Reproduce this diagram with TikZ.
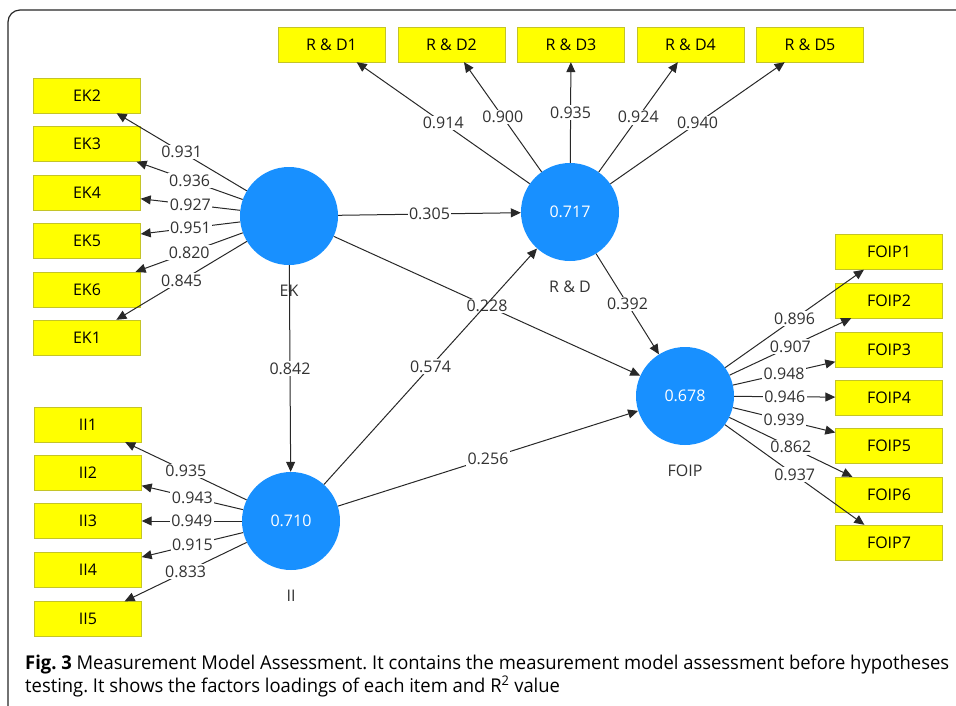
\documentclass[tikz,border=0pt]{standalone}
\usepackage{fontspec}
\setmainfont{Open Sans}
\usetikzlibrary{arrows.meta}
\definecolor{lvblue}{RGB}{24,144,255}
\definecolor{mvyellow}{RGB}{255,255,0}
\definecolor{mvedge}{RGB}{196,196,40}
\definecolor{linegray}{RGB}{40,40,40}
\definecolor{textgray}{RGB}{50,50,50}
\newsavebox\capbox
\newlength\capwd
\frenchspacing

\begin{document}
\sbox\capbox{\fontsize{19}{22}\selectfont\textbf{Fig. 3} Measurement Model Assessment. It contains the measurement model assessment before hypotheses}%
\setlength\capwd{\wd\capbox}%
\begin{tikzpicture}[x=1pt,y=-1pt]

\tikzstyle{every node}=[font=\fontsize{16}{19}\selectfont];
\tikzstyle{item}=[draw=mvedge, fill=mvyellow, minimum width=107pt, minimum height=35pt, inner sep=0pt, text=black];
\tikzstyle{latent}=[circle, fill=lvblue, minimum size=98pt, inner sep=0pt, text=white];
\tikzstyle{load}=[midway, fill=white, inner sep=1.5pt, text=textgray];
\tikzstyle{link}=[draw=linegray, line width=1pt, -{Triangle[length=10pt,width=9pt]}];
\tikzstyle{caption}=[anchor=base west, inner sep=0pt, font=\fontsize{19}{22}\selectfont];

\useasboundingbox (0,0) rectangle (956,705);

% frame
\draw[line width=1.2pt, draw=black!85, rounded corners=12pt] (8,710) -- (8,10) -- (960,10);

% latent variables
\node[latent, label={[label distance=16pt, text=textgray]below:EK}] (EK) at (289,216) {};
\node[latent, label={[label distance=16pt, text=textgray]below:R \& D}] (RD) at (570,212) {0.717};
\node[latent, label={[label distance=16pt, text=textgray]below:II}] (II) at (291,521) {0.710};
\node[latent, label={[label distance=16pt, text=textgray]below:FOIP}] (FOIP) at (685,396) {0.678};

% EK items
\node[item] (ek2) at (87,95.5) {EK2};
\node[item] (ek3) at (87,144) {EK3};
\node[item] (ek4) at (87,192.5) {EK4};
\node[item] (ek5) at (87,240.5) {EK5};
\node[item] (ek6) at (87,289.5) {EK6};
\node[item] (ek1) at (87,337.5) {EK1};

% II items
\node[item] (ii1) at (88,424.5) {II1};
\node[item] (ii2) at (88,473) {II2};
\node[item] (ii3) at (88,521) {II3};
\node[item] (ii4) at (88,570) {II4};
\node[item] (ii5) at (88,619) {II5};

% R & D items
\node[item] (rd1) at (331.5,44.5) {R \& D1};
\node[item] (rd2) at (451.5,44.5) {R \& D2};
\node[item] (rd3) at (571,44.5) {R \& D3};
\node[item] (rd4) at (690.5,44.5) {R \& D4};
\node[item] (rd5) at (810,44.5) {R \& D5};

% FOIP items
\node[item] (foip1) at (889,252) {FOIP1};
\node[item] (foip2) at (889,300.5) {FOIP2};
\node[item] (foip3) at (889,349.5) {FOIP3};
\node[item] (foip4) at (889,397.5) {FOIP4};
\node[item] (foip5) at (889,445.5) {FOIP5};
\node[item] (foip6) at (889,494.5) {FOIP6};
\node[item] (foip7) at (889,542.5) {FOIP7};

% loadings
\draw[link] (EK) -- (ek2) node[load] {0.931};
\draw[link] (EK) -- (ek3) node[load] {0.936};
\draw[link] (EK) -- (ek4) node[load] {0.927};
\draw[link] (EK) -- (ek5) node[load] {0.951};
\draw[link] (EK) -- (ek6) node[load] {0.820};
\draw[link] (EK) -- (ek1) node[load] {0.845};

\draw[link] (II) -- (ii1) node[load] {0.935};
\draw[link] (II) -- (ii2) node[load] {0.943};
\draw[link] (II) -- (ii3) node[load] {0.949};
\draw[link] (II) -- (ii4) node[load] {0.915};
\draw[link] (II) -- (ii5) node[load] {0.833};

\draw[link] (RD) -- (rd1) node[load] {0.914};
\draw[link] (RD) -- (rd2) node[load] {0.900};
\draw[link] (RD) -- (rd3) node[load] {0.935};
\draw[link] (RD) -- (rd4) node[load] {0.924};
\draw[link] (RD) -- (rd5) node[load] {0.940};

\draw[link] (FOIP) -- (foip1) node[load] {0.896};
\draw[link] (FOIP) -- (foip2) node[load] {0.907};
\draw[link] (FOIP) -- (foip3) node[load] {0.948};
\draw[link] (FOIP) -- (foip4) node[load] {0.946};
\draw[link] (FOIP) -- (foip5) node[load] {0.939};
\draw[link] (FOIP) -- (foip6) node[load] {0.862};
\draw[link] (FOIP) -- (foip7) node[load] {0.937};

% structural paths
\draw[link] (EK) -- (RD) node[load] {0.305};
\draw[link] (EK) -- (FOIP) node[load] {0.228};
\draw[link] (EK) -- (II) node[load] {0.842};
\draw[link] (II) -- (RD) node[load] {0.574};
\draw[link] (II) -- (FOIP) node[load] {0.256};
\draw[link] (RD) -- (FOIP) node[load] {0.392};

% caption, squeezed to the reference width
\pgfmathsetmacro\capscale{924/\capwd}
\node[caption] (cap1) at (25,669) {\scalebox{\capscale}[1]{\usebox\capbox}};
\node[caption] (cap2) at (25,692) {\scalebox{\capscale}[1]{testing. It shows the factors loadings of each item and R\textsuperscript{2} value}};
\end{tikzpicture}
\end{document}
